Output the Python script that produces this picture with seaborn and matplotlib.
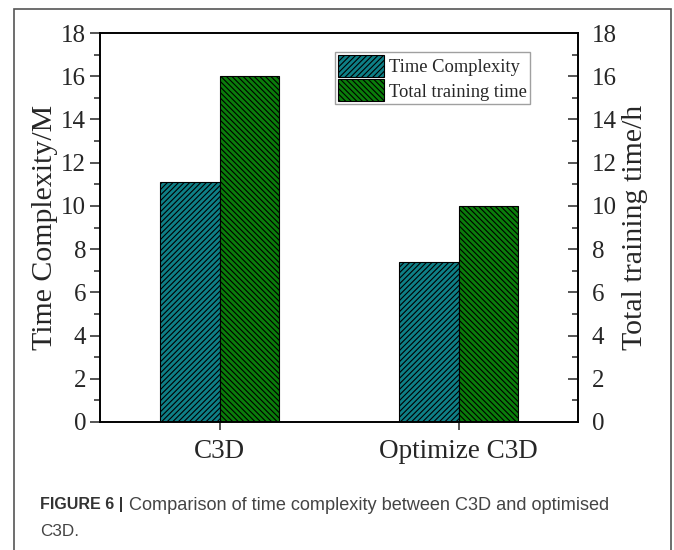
import matplotlib
matplotlib.use("Agg")
import matplotlib.pyplot as plt
import matplotlib.patches as mpatches
from matplotlib.ticker import MultipleLocator
import seaborn as sns
import pandas as pd

# --- data ---
categories = ["C3D", "Optimize C3D"]
series_names = ["Time Complexity", "Total training time"]
time_complexity = [11.1, 7.4]      # M
training_time = [16.0, 10.0]       # h
series_colors = ["#0e7f86", "#0a7d0a"]
series_hatches = ["//////", "\\\\\\\\\\\\"]

df = pd.DataFrame({
    "cat": categories * 2,
    "series": [series_names[0]] * 2 + [series_names[1]] * 2,
    "value": time_complexity + training_time,
})

sns.set_style("ticks")
plt.rcParams["font.family"] = ["Liberation Serif", "DejaVu Serif"]
plt.rcParams["hatch.linewidth"] = 0.8
plt.rcParams["hatch.color"] = "black"

fig = plt.figure(figsize=(6.74, 5.5), dpi=100)
ax = fig.add_axes([100 / 674, 1 - 422 / 550, 478 / 674, 389 / 550])

sns.barplot(data=df, x="cat", y="value", hue="series", order=categories,
            hue_order=series_names, palette=series_colors, width=0.5,
            edgecolor="black", linewidth=0.8, saturation=1, ax=ax)
for cont, h in zip(ax.containers, series_hatches):
    for p in cont:
        p.set_hatch(h)
if ax.get_legend() is not None:
    ax.get_legend().remove()

ax.set_xlim(-0.5, 1.5)
ax.set_ylim(0, 18)
ax.yaxis.set_major_locator(MultipleLocator(2))
ax.yaxis.set_minor_locator(MultipleLocator(1))
ax.set_xlabel("")
ax.set_ylabel("Time Complexity/M", fontsize=21.5, labelpad=2)
ax.tick_params(axis="y", which="major", direction="out", length=7, width=1.1, labelsize=18, pad=3)
ax.tick_params(axis="y", which="minor", direction="out", length=4, width=1.1)
ax.tick_params(axis="x", which="major", direction="out", length=6, width=1.1, labelsize=19.5, pad=6)
for s in ax.spines.values():
    s.set_linewidth(1.2)
    s.set_color("black")

ax2 = ax.twinx()
ax2.set_ylim(0, 18)
ax2.yaxis.set_major_locator(MultipleLocator(2))
ax2.yaxis.set_minor_locator(MultipleLocator(1))
ax2.set_ylabel("Total training time/h", fontsize=21.5, labelpad=4)
ax2.tick_params(axis="y", which="major", direction="in", length=7, width=1.1, labelsize=18, pad=10)
ax2.tick_params(axis="y", which="minor", direction="in", length=4, width=1.1)
for s in ax2.spines.values():
    s.set_linewidth(1.2)
    s.set_color("black")

handles = [mpatches.Patch(facecolor=c, edgecolor="black", hatch=h, linewidth=0.8, label=n)
           for c, h, n in zip(series_colors, series_hatches, series_names)]
leg = ax2.legend(handles=handles, loc="upper left", bbox_to_anchor=(235 / 478, 1 - 19 / 389),
                 fontsize=13.3, frameon=True, fancybox=False, edgecolor="#888888",
                 handlelength=2.5, handleheight=1.45, handletextpad=0.3,
                 borderpad=0.15, labelspacing=0.15, borderaxespad=0)
leg.get_frame().set_linewidth(1.0)

# caption and outer frame
fig.text(40 / 674, 1 - 505 / 550, "FIGURE 6 |", fontsize=11.5, fontweight="bold",
         color="#333333", family="Liberation Sans", va="center")
fig.text(129 / 674, 1 - 505 / 550, "Comparison of time complexity between C3D and optimised",
         fontsize=13.1, color="#444444", family="Liberation Sans", va="center")
fig.text(40 / 674, 1 - 531 / 550, "C3D.", fontsize=12.3, color="#444444",
         family="Liberation Sans", va="center")
fig.patches.append(mpatches.Rectangle((14 / 674, -0.05), 657 / 674, 1.05 - 9 / 550,
                                      transform=fig.transFigure, fill=False,
                                      edgecolor="#555555", linewidth=1.2))

fig.savefig("out.png", dpi=100)
